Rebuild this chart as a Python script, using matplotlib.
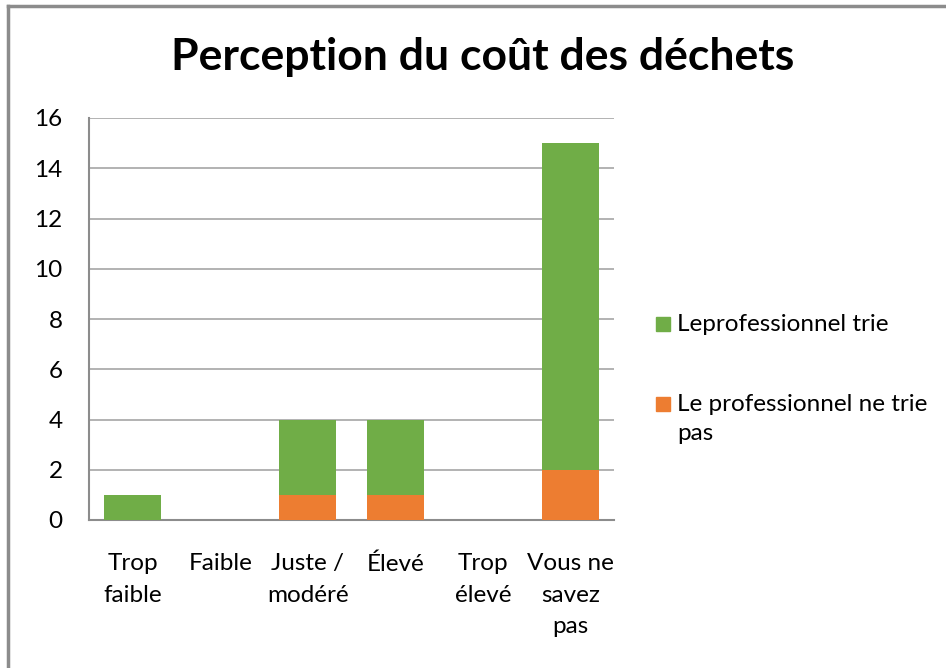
import matplotlib
matplotlib.use("Agg")
import matplotlib.pyplot as plt
from matplotlib.lines import Line2D
from matplotlib.patches import Rectangle
import numpy as np

### data
categories = ["Trop\nfaible", "Faible", "Juste /\nmodéré", "Élevé", "Trop\nélevé", "Vous ne\nsavez\npas"]
ne_trie_pas = [0, 0, 1, 1, 0, 2]
trie = [1, 0, 3, 3, 0, 13]
labels = ["Leprofessionnel trie", "Le professionnel ne trie\npas"]

green = "#70AD47"
orange = "#ED7D31"
gridcol = "#A6A6A6"

plt.rcParams['font.family'] = ['Lato', 'DejaVu Sans']

fig = plt.figure(figsize=(9.46, 6.68), dpi=100)
ax = fig.add_axes([89/946, 1 - 520/668, (614 - 89)/946, (520 - 118)/668])

x = np.arange(len(categories))
b1 = ax.bar(x, ne_trie_pas, width=0.65, color=orange, zorder=3)
b2 = ax.bar(x, trie, width=0.65, bottom=ne_trie_pas, color=green, zorder=3)

ax.set_xlim(-0.5, len(categories) - 0.5)
ax.set_ylim(0, 16)
ax.set_yticks(range(0, 17, 2))
ax.set_xticks(x)
ax.set_xticklabels(categories, fontsize=17.5, linespacing=1.6)
ax.tick_params(axis='both', length=0, labelsize=17.5)
ax.tick_params(axis='x', pad=24)
ax.tick_params(axis='y', pad=19)

ax.yaxis.grid(True, color=gridcol, linewidth=1.2, zorder=0)
for s in ['top', 'right']:
    ax.spines[s].set_visible(False)
for s in ['left', 'bottom']:
    ax.spines[s].set_color("#8C8C8C")
    ax.spines[s].set_linewidth(1.5)

fig.text(483/946, 1 - 57/668, "Perception du coût des déchets",
         ha='center', va='center', fontsize=32, fontweight='bold')

### legend (first text line aligned with the colour square)
leg_colors = [green, orange]
leg_y = [324, 404]
for col, lab, yy in zip(leg_colors, labels, leg_y):
    fig.add_artist(Rectangle((656/946, 1 - (yy + 7)/668), 14/946, 14/668,
                             transform=fig.transFigure, color=col))
    fig.text(677/946, 1 - (yy - 10)/668, lab, ha='left', va='top',
             fontsize=17.5, linespacing=1.48)

### chart area border (left and top visible)
fig.add_artist(Line2D([8/946, 8/946], [0, 1 - 6/668], transform=fig.transFigure,
                      color="#8C8C8C", linewidth=2.5))
fig.add_artist(Line2D([8/946, 1], [1 - 6/668, 1 - 6/668], transform=fig.transFigure,
                      color="#8C8C8C", linewidth=2.5))

plt.savefig("out.png", dpi=100)
